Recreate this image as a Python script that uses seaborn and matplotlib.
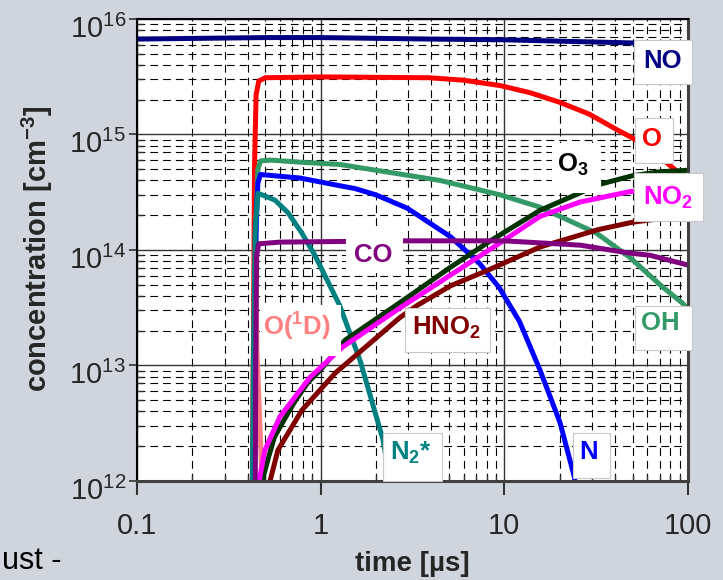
import numpy as np
import pandas as pd
import seaborn as sns
import matplotlib
matplotlib.use("Agg")
import matplotlib.pyplot as plt
from matplotlib.patches import Rectangle
from matplotlib.ticker import LogLocator, NullFormatter
from matplotlib.transforms import ScaledTranslation

# ---- species concentrations [cm^-3] versus time [µs] ----
t_O1D = [0.42, 0.428, 0.44, 0.45, 0.48, 0.49]
c_O1D = [1e11, 1e13, 8e13, 1.3e13, 1.0e12, 4e11]

t_NO = [0.1, 0.5, 1.0, 3.9, 10, 50, 100]
c_NO = [6.7e15, 6.9e15, 6.9e15, 6.7e15, 6.6e15, 6.2e15, 6.1e15]

t_O = [0.425, 0.43, 0.436, 0.445, 0.46, 0.5, 1.0, 3.9, 6.0, 9.5, 13.8, 20, 29, 41, 50, 72, 87, 100]
c_O = [1e11, 1e13, 5e14, 2.2e15, 2.9e15, 3.1e15, 3.15e15, 3.1e15, 2.95e15, 2.65e15, 2.3e15,
       1.9e15, 1.5e15, 1.1e15, 9.3e14, 6.2e14, 4.8e14, 4.1e14]

t_OH = [0.425, 0.435, 0.445, 0.455, 0.47, 0.53, 0.78, 1.27, 4.46, 9.5, 15.6, 31.7, 47.9, 72.5, 92.6, 100]
c_OH = [1e11, 1e13, 2e14, 5e14, 5.9e14, 6.0e14, 5.75e14, 5.5e14, 4.0e14, 3.0e14,
        2.35e14, 1.4e14, 8.7e13, 4.8e13, 3.5e13, 3.1e13]

t_N = [0.425, 0.435, 0.445, 0.455, 0.47, 0.77, 1.27, 1.54, 2.0, 2.96, 5.1, 7.3, 9.4, 12.1,
       15.6, 20.1, 24.1, 25]
c_N = [1e11, 1e13, 1.5e14, 3.8e14, 4.5e14, 4.2e14, 3.6e14, 3.4e14, 3.0e14, 2.3e14, 1.3e14,
       7.7e13, 4.7e13, 2.4e13, 9.2e12, 3.2e12, 1.07e12, 6e11]

t_N2s = [0.42, 0.43, 0.44, 0.456, 0.564, 0.664, 0.79, 0.93, 1.27, 1.64, 2.18, 2.45]
c_N2s = [1e11, 1e13, 1.5e14, 3.1e14, 2.7e14, 2.1e14, 1.4e14, 9.0e13, 3.3e13, 1.1e13, 2.3e12, 8e11]

t_CO = [0.438, 0.443, 0.448, 0.46, 0.6, 3.0, 10, 26, 48, 62, 100]
c_CO = [1e11, 1e13, 9e13, 1.13e14, 1.17e14, 1.2e14, 1.2e14, 1.1e14, 9.4e13, 9.0e13, 7.4e13]

t_O3 = [0.47, 0.48, 0.52, 0.56, 0.64, 0.73, 0.85, 1.0, 1.36, 2.7, 5.1, 8.4, 15.6, 33, 50, 70, 100]
c_O3 = [5e11, 1.0e12, 1.6e12, 2.4e12, 3.5e12, 5.0e12, 7.1e12, 9.2e12, 1.66e13, 3.5e13,
        7.1e13, 1.2e14, 2.2e14, 3.7e14, 4.4e14, 4.75e14, 4.9e14]

t_NO2 = [0.455, 0.462, 0.497, 0.60, 0.875, 1.32, 2.7, 9.46, 15.6, 25.8, 48.3, 100]
c_NO2 = [5e11, 1.0e12, 1.85e12, 3.6e12, 7.9e12, 1.45e13, 3.15e13, 1.15e14, 1.95e14,
         2.6e14, 3.2e14, 3.6e14]

t_HNO2 = [0.52, 0.53, 0.585, 0.79, 1.2, 2.7, 3.34, 5.1, 8.35, 15.6, 32.4, 50, 100]
c_HNO2 = [5e11, 1.0e12, 1.85e12, 4.1e12, 8.6e12, 2.6e13, 3.3e13, 4.9e13, 6.8e13, 1.06e14,
          1.5e14, 1.74e14, 2.0e14]

species = ["O(1D)", "NO", "O", "OH", "N", "N2*", "O3", "NO2", "HNO2", "CO"]
series = {
    "O(1D)": (t_O1D, c_O1D), "NO": (t_NO, c_NO), "O": (t_O, c_O), "OH": (t_OH, c_OH),
    "N": (t_N, c_N), "N2*": (t_N2s, c_N2s), "O3": (t_O3, c_O3), "NO2": (t_NO2, c_NO2),
    "HNO2": (t_HNO2, c_HNO2), "CO": (t_CO, c_CO),
}
colors = {
    "O(1D)": "#ff8080", "NO": "#000080", "O": "#ff0000", "OH": "#339966",
    "N": "#0000ff", "N2*": "#008080", "O3": "#003300", "NO2": "#ff00ff",
    "HNO2": "#800000", "CO": "#800080",
}

x_ticks = [0.1, 1, 10, 100]
x_ticklabels = ["0.1", "1", "10", "100"]
y_ticks = [1e12, 1e13, 1e14, 1e15, 1e16]
y_ticklabels = [r"$10^{12}$", r"$10^{13}$", r"$10^{14}$", r"$10^{15}$", r"$10^{16}$"]

rows = []
for name in species:
    ts, cs = series[name]
    for t, c in zip(ts, cs):
        rows.append((name, t, c))
df = pd.DataFrame(rows, columns=["species", "time", "conc"])

sns.set_theme(style="white")
plt.rcParams["font.family"] = ["Liberation Sans", "DejaVu Sans"]
plt.rcParams["mathtext.default"] = "regular"

bg = "#d0d4dc"
fig = plt.figure(figsize=(7.23, 5.80), dpi=100, facecolor=bg)
ax = fig.add_axes([0.1895, 0.1707, 0.7621, 0.7966])
ax.set_facecolor("white")
ax.set_xscale("log")
ax.set_yscale("log")

sns.lineplot(data=df, x="time", y="conc", hue="species", hue_order=species,
             palette=colors, estimator=None, sort=False, units="species",
             linewidth=3.6, legend=False, ax=ax)
for line in ax.get_lines():
    line.set_solid_joinstyle("round")
    line.set_solid_capstyle("butt")

ax.set_xlim(0.1, 100)
ax.set_ylim(1e12, 1e16)

# grids: solid decades, dashed sub-decades
ax.set_axisbelow(True)
ax.xaxis.set_minor_locator(LogLocator(base=10, subs=np.arange(2, 10)))
ax.yaxis.set_minor_locator(LogLocator(base=10, subs=np.arange(2, 10)))
ax.xaxis.set_minor_formatter(NullFormatter())
ax.yaxis.set_minor_formatter(NullFormatter())
ax.grid(which="major", ls="-", color="#333333", lw=1.0)
ax.grid(which="minor", ls=(0, (7, 4.5)), color="black", lw=0.8)

ax.set_xticks(x_ticks)
ax.set_xticklabels(x_ticklabels)
ax.set_yticks(y_ticks)
ax.set_yticklabels(y_ticklabels)
ax.tick_params(axis="x", which="major", direction="out", length=10, width=1.5,
               labelsize=21, pad=12, color="#333333")
ax.tick_params(axis="y", which="major", direction="out", length=6, width=1.2,
               labelsize=21, pad=2, color="#333333")
ax.tick_params(which="minor", direction="in", length=4, width=1.0, color="#333333")
ax.tick_params(bottom=True, left=True, which="both")

# decade labels sit a little low, with the exponent near the tick
shift = ScaledTranslation(0, -5 / 72, fig.dpi_scale_trans)
for lab in ax.get_yticklabels():
    lab.set_transform(lab.get_transform() + shift)

for side in ["left", "top"]:
    ax.spines[side].set_color("black")
    ax.spines[side].set_linewidth(1.5)
for side in ["bottom", "right"]:
    ax.spines[side].set_color("#404040")
    ax.spines[side].set_linewidth(2.2)

ax.set_xlabel("time [µs]", fontsize=20, fontweight="bold")
ax.set_ylabel(r"concentration [cm$^{-3}$]", fontsize=21, fontweight="bold")
ax.xaxis.set_label_coords(0.5, -0.152)
ax.yaxis.set_label_coords(-0.149, 0.504)

# species labels on white boxes
labels = [
    ("NO", "NO", (0.902, 0.859, 1.007, 0.955), (0.953, 0.909), True),
    ("O", "O", (0.904, 0.688, 0.973, 0.786), (0.935, 0.740), True),
    ("O3", r"O$_3$", (0.753, 0.626, 0.840, 0.732), (0.791, 0.684), False),
    ("NO2", r"NO$_2$", (0.902, 0.563, 1.027, 0.667), (0.964, 0.612), True),
    ("CO", "CO", (0.379, 0.452, 0.481, 0.548), (0.428, 0.489), False),
    ("HNO2", r"HNO$_2$", (0.486, 0.279, 0.641, 0.374), (0.561, 0.332), True),
    ("O(1D)", r"O($^1$D)", (0.223, 0.273, 0.368, 0.381), (0.290, 0.333), False),
    ("N2*", r"N$_2$*", (0.446, 0.0, 0.554, 0.104), (0.497, 0.060), True),
    ("N", "N", (0.791, 0.006, 0.858, 0.104), (0.820, 0.063), True),
    ("OH", "OH", (0.904, 0.284, 1.007, 0.379), (0.949, 0.342), True),
]
for key, txt, (x0, y0, x1, y1), (tx, ty), edged in labels:
    ax.add_patch(Rectangle((x0, y0), x1 - x0, y1 - y0, transform=ax.transAxes,
                           facecolor="white",
                           edgecolor="#c8c8c8" if edged else "white", lw=0.8,
                           zorder=4, clip_on=False))
    col = "black" if key == "O3" else colors[key]
    ax.text(tx, ty, txt, transform=ax.transAxes, ha="center", va="center",
            fontsize=18.5, fontweight="bold", color=col, zorder=5)

fig.text(0.003, 0.058, "ust -", fontsize=22, ha="left", va="top", color="black")

fig.savefig("out.png", dpi=100, facecolor=bg)
